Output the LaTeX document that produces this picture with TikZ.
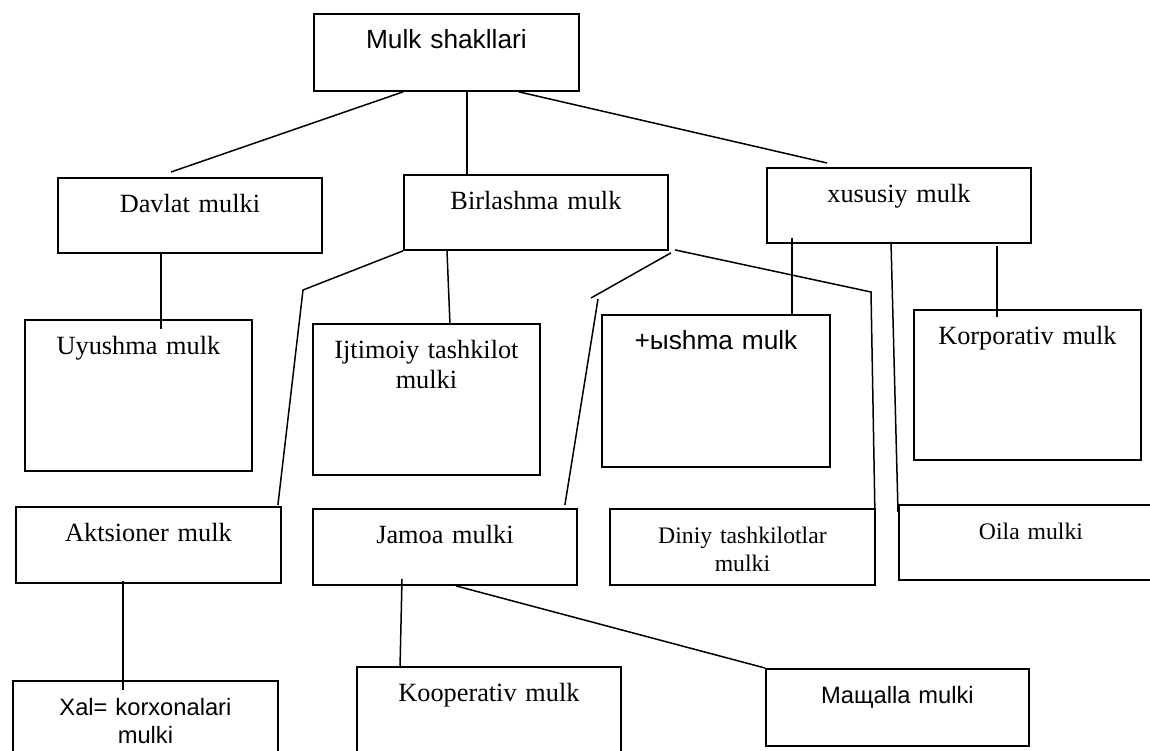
\documentclass[tikz,border=0pt]{standalone}
\usepackage{fontspec}
\setmainfont{Liberation Serif}
\setsansfont{Liberation Sans}

\tikzset{
  cell/.style 2 args={draw, line width=1.9pt, inner sep=0pt, anchor=north west,
    align=center, text width=#1, text height=35pt, text depth=#2,
    font=\fontsize{26.3}{30}\selectfont},
  sans/.style={font=\fontsize{26.3}{30}\selectfont\sffamily},
  small/.style={font=\fontsize{23.7}{27.5}\selectfont},
  smallsans/.style={font=\fontsize{23.7}{27.5}\selectfont\sffamily},
  link/.style={line width=1.5pt}
}

\begin{document}
\begin{tikzpicture}[x=1pt,y=-1pt]
\useasboundingbox (0,0) rectangle (1150,751);
\clip (0,0) rectangle (1150,751);

\node [cell={265pt}{42pt}, sans] (forms) at (313,13) {Mulk shakllari};

\node [cell={264pt}{40pt}] (davlat) at (57,177) {Davlat mulki};
\node [cell={264pt}{40pt}] (birl) at (403,174) {Birlashma mulk};
\node [cell={264pt}{40pt}] (xusus) at (766,167) {xususiy mulk};

\node [cell={227pt}{116pt}] (uyush) at (24,319) {Uyushma mulk};
\node [cell={227pt}{116pt}] (ijtim) at (312,323) {Ijtimoiy tashkilot\\mulki};
\node [cell={228pt}{117pt}, sans] (yshma) at (601,314) {+ыshma mulk};
\node [cell={227pt}{115pt}] (korp) at (913,309) {Korporativ mulk};

\node [cell={265pt}{41pt}] (akts) at (15,506) {Aktsioner mulk};
\node [cell={264pt}{41pt}] (jamoa) at (312,508) {Jamoa mulki};
\node [cell={265pt}{41pt}, small] (diniy) at (609,508) {Diniy tashkilotlar\\mulki};
\node [cell={264pt}{40pt}, small] (oila) at (898,504) {Oila mulki};

\node [cell={265pt}{55pt}, smallsans] (xal) at (12,680) {Xal= korxonalari\\mulki};
\node [cell={264pt}{65pt}] (koop) at (356,666) {Kooperativ mulk};
\node [cell={263pt}{42pt}, smallsans] (mahal) at (765,668) {Maщalla mulki};

\coordinate (akts-kink) at (303,290);
\coordinate (jam-kink1) at (591,298);
\coordinate (jam-kink2) at (598,299);
\coordinate (din-kink) at (871,292);

\draw [link] ([xshift=90pt]forms.south west) -- ([xshift=114pt,yshift=5pt]davlat.north west);
\draw [link] ([xshift=154pt]forms.south west) -- ([xshift=64pt]birl.north west);
\draw [link] ([xshift=206pt]forms.south west) -- ([xshift=61pt,yshift=4pt]xusus.north west);

\draw [link] ([xshift=104pt]davlat.south west) -- ([xshift=137pt,yshift=-10pt]uyush.north west);

\draw [link] (birl.south west) -- (akts-kink) -- ([xshift=-4pt,yshift=1pt]akts.north east);
\draw [link] ([xshift=44pt]birl.south west) -- ([xshift=138pt,yshift=-2pt]ijtim.north west);
\draw [link] ([xshift=2pt,yshift=-2pt]birl.south east) -- (jam-kink1);
\draw [link] (jam-kink2) -- ([xshift=-13pt,yshift=3pt]jamoa.north east);
\draw [link] ([xshift=6pt,yshift=1pt]birl.south east) -- (din-kink) -- ([xshift=-1pt,yshift=-4pt]diniy.north east);

\draw [link] ([xshift=26pt,yshift=6pt]xusus.south west) -- ([xshift=191pt]yshma.north west);
\draw [link] ([xshift=125pt,yshift=2pt]xusus.south west) -- ([yshift=-8pt]oila.north west);
\draw [link] ([xshift=231pt,yshift=-2pt]xusus.south west) -- ([xshift=84pt,yshift=-8pt]korp.north west);

\draw [link] ([xshift=108pt,yshift=3pt]akts.south west) -- ([xshift=111pt,yshift=-10pt]xal.north west);
\draw [link] ([xshift=90pt,yshift=7pt]jamoa.south west) -- ([xshift=44pt,yshift=-2pt]koop.north west);
\draw [link] ([xshift=144pt]jamoa.south west) -- (mahal.north west);
\end{tikzpicture}
\end{document}
